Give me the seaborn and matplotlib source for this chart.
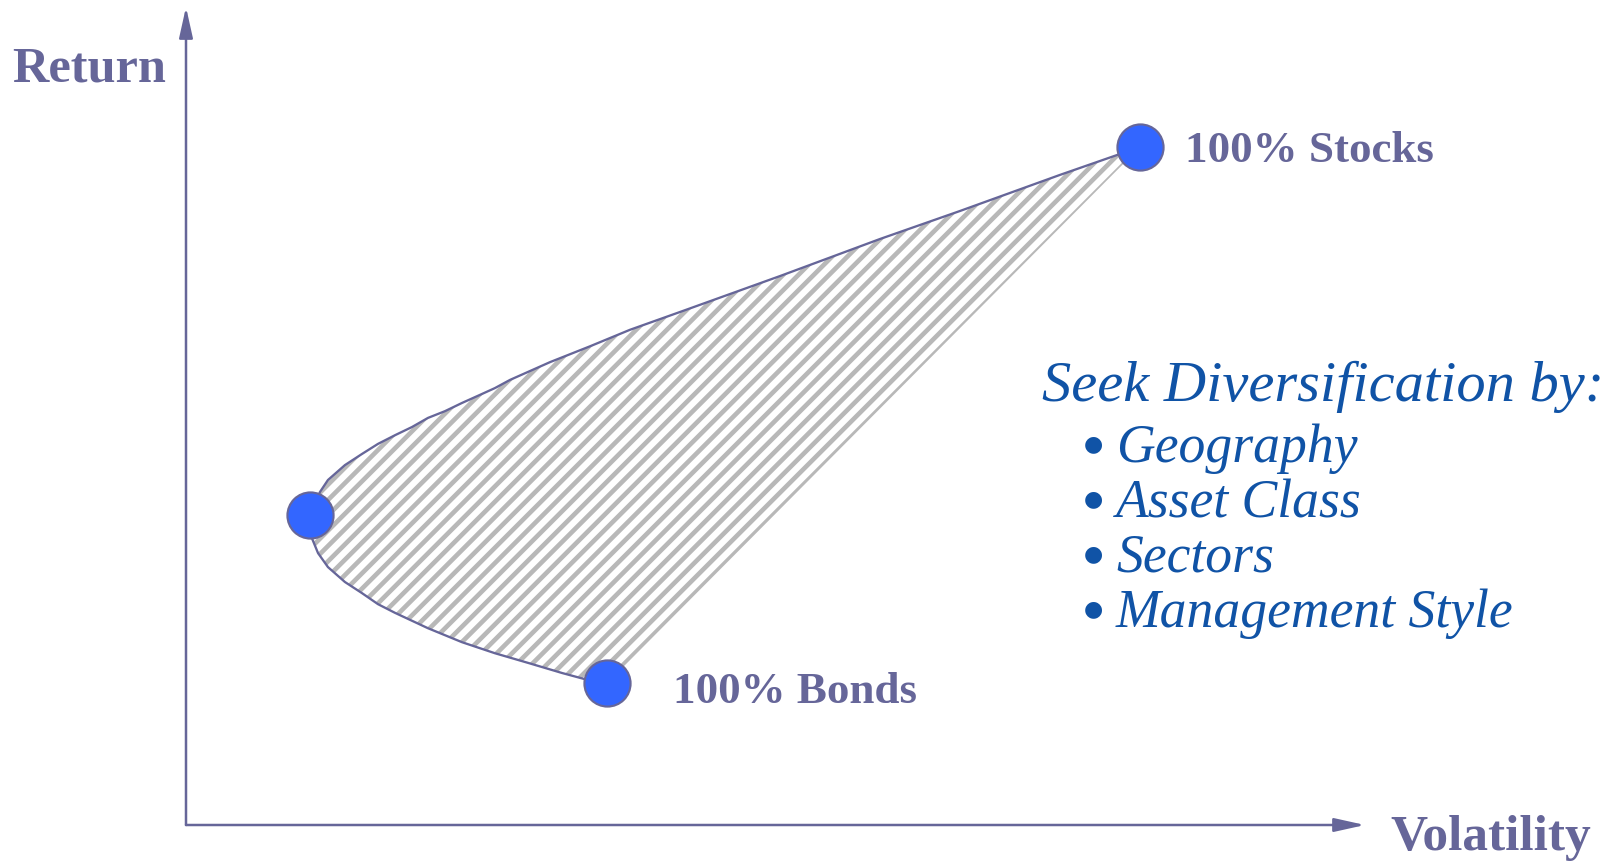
import matplotlib
matplotlib.use("Agg")
import matplotlib.pyplot as plt
import seaborn as sns

# Data (volatility vs return)
# efficient frontier, from 100% bonds round the min-variance point up to 100% stocks
frontier_vol = [8.93, 8.46, 7.97, 7.25, 6.55, 5.85, 5.13, 4.43, 4.07, 3.73, 3.37, 3.01,
                2.80, 2.67, 2.63, 2.84, 3.01, 3.37, 3.73, 4.07, 4.43, 4.79, 5.13, 5.49,
                5.85, 6.19, 6.55, 6.87, 7.72, 8.57, 9.41, 10.47, 12.60, 14.72, 16.41,
                18.53, 20.23]
frontier_ret = [2.95, 3.03, 3.16, 3.37, 3.57, 3.80, 4.09, 4.41, 4.59, 4.82, 5.05, 5.36,
                5.65, 5.96, 6.44, 6.92, 7.17, 7.48, 7.71, 7.92, 8.10, 8.27, 8.46, 8.60,
                8.77, 8.92, 9.08, 9.25, 9.62, 9.95, 10.29, 10.66, 11.41, 12.18, 12.76,
                13.51, 14.09]

point_names = ['100% Stocks', '', '100% Bonds']
point_vol = [20.23, 2.63, 8.93]
point_ret = [14.09, 6.44, 2.95]

header = 'Seek Diversification by:'
bullets = ['Geography', 'Asset Class', 'Sectors', 'Management Style']

# Styling
W, H, DPI = 1614, 861, 138
AX_COL = '#666699'
DOT_COL = '#3366FF'
BLUE_TXT = '#1053A6'
SERIF = ['Liberation Serif', 'DejaVu Serif']

sns.set_theme(style='white')
plt.rcParams['hatch.linewidth'] = 2.4

fig = plt.figure(figsize=(W / DPI, H / DPI), dpi=DPI)
fig.patch.set_facecolor('white')

# axes spans origin corner (186, 825) to the arrow tips
ax = fig.add_axes([186 / W, (H - 825) / H, (1365 - 186) / W, (825 - 7) / H])
ax.set_xlim(0, 25)
ax.set_ylim(0, 17)
ax.axis('off')

# hatched feasible region (closed back to bonds with a straight edge)
ax.fill(frontier_vol, frontier_ret, facecolor='none', edgecolor='#B8B8B8',
        hatch='///', linewidth=0, zorder=1)

sns.lineplot(x=frontier_vol, y=frontier_ret, sort=False, estimator=None,
             color=AX_COL, linewidth=1.2, ax=ax, zorder=3,
             solid_joinstyle='round', solid_capstyle='round')

sns.scatterplot(x=point_vol, y=point_ret, s=580, color=DOT_COL, edgecolor=AX_COL,
                linewidth=1.1, ax=ax, zorder=5, legend=False, clip_on=False)

# axis arrows
arrow = dict(arrowstyle='-|>,head_length=1.35,head_width=0.3', mutation_scale=10,
             color=AX_COL, lw=1.3, shrinkA=0, shrinkB=0)
ax.annotate('', xy=(1, 0), xytext=(0, 0), xycoords='axes fraction',
            arrowprops=arrow, annotation_clip=False)
ax.annotate('', xy=(0, 1), xytext=(0, 0), xycoords='axes fraction',
            arrowprops=arrow, annotation_clip=False)

# point labels
offsets = [(45, -15), None, (66, -20)]
for name, v, r, off in zip(point_names, point_vol, point_ret, offsets):
    if name:
        ax.annotate(name, (v, r), xytext=off, textcoords='offset pixels',
                    ha='left', va='baseline', fontsize=23.5, fontweight='bold',
                    color=AX_COL, family=SERIF)


def ftext(px, py, s, **kw):
    fig.text(px / W, 1 - py / H, s, **kw)


ftext(12, 82, 'Return', ha='left', va='baseline', fontsize=26.3, fontweight='bold',
      color=AX_COL, family=SERIF)
ftext(1390, 850, 'Volatility', ha='left', va='baseline', fontsize=26.8,
      fontweight='bold', color=AX_COL, family=SERIF)

ftext(1042, 401, header, ha='left', va='baseline', fontsize=30.5, style='italic',
      color=BLUE_TXT, family=SERIF)
for i, item in enumerate(bullets):
    y = 462 + 55 * i
    ftext(1093, y - 18, '\u25cf', ha='center', va='center', fontsize=11.5,
          color=BLUE_TXT, family=['DejaVu Sans'])
    ftext(1116, y, item, ha='left', va='baseline', fontsize=28, style='italic',
          color=BLUE_TXT, family=SERIF)

plt.savefig('out.png', dpi=DPI)
